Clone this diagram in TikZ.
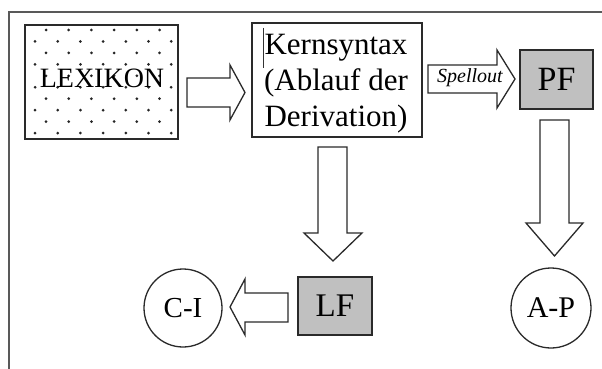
\documentclass[tikz,border=0pt]{standalone}
\usepackage{fontspec}
\setmainfont{Liberation Serif}
\definecolor{boxgray}{HTML}{C0C0C0}
\definecolor{linegray}{HTML}{2A2A2A}
\begin{document}
\begin{tikzpicture}[x=1pt,y=-1pt,
  boxline/.style={draw=linegray,line width=1.6pt},
  blockarrow/.style={draw=linegray,line width=1.3pt,fill=white,line join=miter},
  txt/.style={inner sep=0pt,text=black}]
\useasboundingbox (0,0) rectangle (602,369);
% frame
\draw[draw=black!65,line width=1.5pt] (9,369) -- (9,12) -- (602,12);
% LEXIKON box with dots
\node[boxline,fill=white,minimum width=153pt,minimum height=114pt,inner sep=0pt] (lex) at (101.5,82) {};
\begin{scope}
\clip (25,25) rectangle (178,139);
\foreach \k in {0,...,9}{
  \pgfmathsetmacro{\yy}{30+11.45*\k}
  \pgfmathsetmacro{\xs}{ifthenelse(mod(\k,2)==0,46,35)}
  \foreach \j in {0,...,6}{
    \fill[black!85] ({\xs+22.7*\j},\yy) circle (1.5pt);
  }
}
\end{scope}
\node[txt,font=\fontsize{28}{32}\selectfont] (lextext) at (102,78) {LEXIKON};
% Kernsyntax box
\node[boxline,fill=white,minimum width=170pt,minimum height=114pt,inner sep=0pt] (kern) at (337,80) {};
\node[txt,align=center,font=\fontsize{31}{36}\selectfont] (kerntext) at (336,84) {Kernsyntax\\(Ablauf der\\Derivation)};
\draw[black!80,line width=1pt] (263,28) -- (263,68);
% PF box
\node[boxline,fill=boxgray,minimum width=73pt,minimum height=59pt,inner sep=0pt] (pf) at (556.5,79.5) {};
\node[txt,font=\fontsize{34}{38}\selectfont] (pftext) at (pf.center) {PF};
% LF box
\node[boxline,fill=boxgray,minimum width=74pt,minimum height=58pt,inner sep=0pt] (lf) at (335,306) {};
\node[txt,font=\fontsize{33}{38}\selectfont] (lftext) at (lf.center) {LF};
% circles
\node[draw=linegray,line width=1.3pt,circle,minimum size=78pt,inner sep=0pt] (ci) at (183,308) {};
\node[txt,font=\fontsize{29}{32}\selectfont] (citext) at (ci.center) {C-I};
\node[draw=linegray,line width=1.3pt,circle,minimum size=80pt,inner sep=0pt] (ap) at (551,308) {};
\node[txt,font=\fontsize{30}{32}\selectfont] (aptext) at (ap.center) {A-P};
% block arrows
\draw[blockarrow] (187,78) -- (230,78) -- (230,65) -- (245,92.5) -- (230,120) -- (230,107) -- (187,107) -- cycle;
\draw[blockarrow] (428,65) -- (497,65) -- (497,50) -- (515,79) -- (497,108) -- (497,93) -- (428,93) -- cycle;
\node[txt,font=\fontsize{20}{22}\selectfont\itshape] (spell) at (470,78) {Spellout};
\draw[blockarrow] (318,147) -- (347,147) -- (347,233) -- (362,233) -- (333,261) -- (304,233) -- (318,233) -- cycle;
\draw[blockarrow] (540,120) -- (569,120) -- (569,223) -- (583,223) -- (554.5,256) -- (526,223) -- (540,223) -- cycle;
\draw[blockarrow] (288,293) -- (245,293) -- (245,279) -- (230,307) -- (245,335) -- (245,322) -- (288,322) -- cycle;
\end{tikzpicture}
\end{document}
